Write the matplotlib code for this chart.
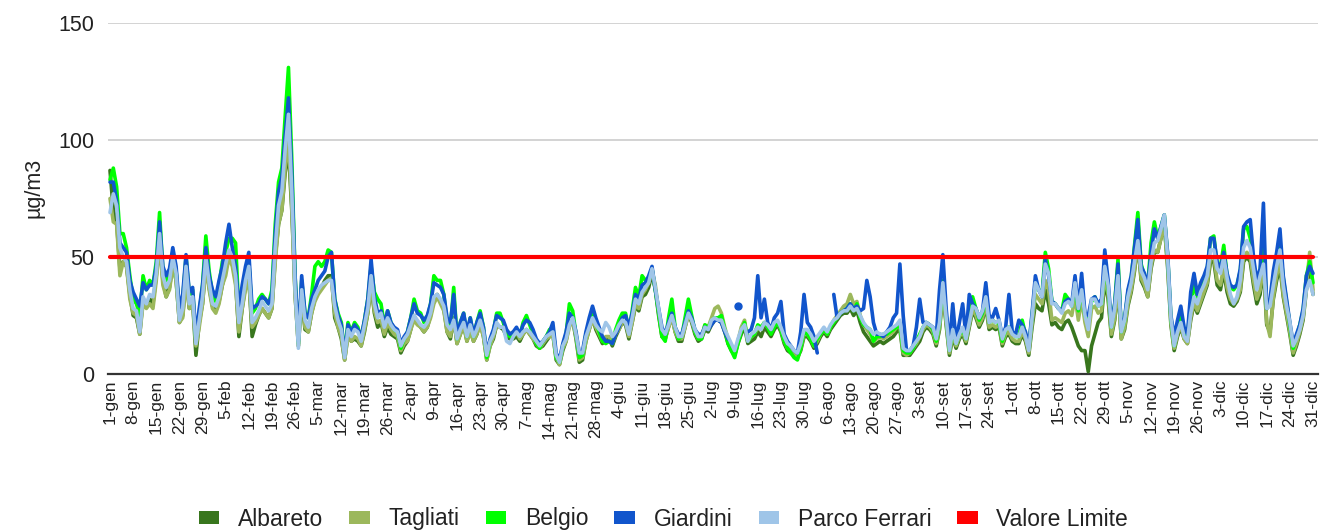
import numpy as np
import matplotlib
matplotlib.use("Agg")
import matplotlib.pyplot as plt
from matplotlib.patches import Patch

nan = float("nan")

tick_labels = ["1-gen", "8-gen", "15-gen", "22-gen", "29-gen", "5-feb", "12-feb", "19-feb",
               "26-feb", "5-mar", "12-mar", "19-mar", "26-mar", "2-apr", "9-apr", "16-apr",
               "23-apr", "30-apr", "7-mag", "14-mag", "21-mag", "28-mag", "4-giu", "11-giu",
               "18-giu", "25-giu", "2-lug", "9-lug", "16-lug", "23-lug", "30-lug", "6-ago",
               "13-ago", "20-ago", "27-ago", "3-set", "10-set", "17-set", "24-set", "1-ott",
               "8-ott", "15-ott", "22-ott", "29-ott", "5-nov", "12-nov", "19-nov", "26-nov",
               "3-dic", "10-dic", "17-dic", "24-dic", "31-dic"]

albareto = [
    87, 70, 65, 45, 48, 46, 34,
    25, 24, 17, 32, 29, 32, 30,
    42, 58, 40, 33, 37, 47, 40,
    22, 25, 42, 28, 31, 8, 22,
    30, 48, 37, 29, 27, 31, 38,
    44, 52, 48, 40, 16, 28, 38,
    42, 16, 21, 25, 28, 26, 24,
    28, 50, 64, 70, 86, 96, 70,
    34, 12, 33, 19, 18, 26, 32,
    35, 37, 40, 42, 42, 24, 20,
    15, 6, 17, 14, 15, 14, 12,
    18, 26, 38, 26, 20, 22, 16,
    20, 17, 16, 15, 9, 12, 14,
    19, 25, 22, 20, 18, 20, 25,
    32, 34, 31, 28, 18, 15, 24,
    13, 17, 21, 14, 19, 14, 17,
    22, 16, 6, 12, 15, 21, 20,
    19, 16, 15, 15, 16, 14, 17,
    19, 17, 15, 12, 11, 12, 14,
    16, 17, 6, 4, 10, 14, 22,
    23, 15, 5, 6, 14, 19, 24,
    19, 16, 13, 15, 15, 12, 16,
    19, 22, 21, 15, 22, 29, 27,
    33, 34, 37, 43, 36, 25, 16,
    15, 20, 25, 18, 14, 14, 20,
    26, 22, 17, 14, 15, 19, 18,
    21, 23, 23, 22, 18, 13, 10,
    8, 13, 17, 20, 13, 14, 15,
    18, 16, 20, 18, 16, 19, 21,
    18, 13, 10, 9, 8, 7, 10,
    16, 16, 14, 11, 13, 16, 18,
    16, 19, 21, 23, 25, 26, 26,
    28, 25, 27, 22, 18, 16, 14,
    12, 13, 14, 13, 14, 15, 16,
    18, 19, 8, 8, 8, 10, 12,
    14, 18, 20, 19, 17, 12, 19,
    35, 21, 8, 16, 11, 15, 17,
    13, 20, 27, 24, 20, 23, 29,
    19, 20, 19, 20, 12, 16, 17,
    14, 13, 13, 17, 14, 8, 20,
    30, 28, 27, 36, 30, 21, 22,
    20, 19, 22, 23, 20, 16, 12,
    10, 10, 1, 12, 17, 22, 24,
    40, 32, 16, 23, 37, 15, 19,
    29, 35, 44, 56, 40, 37, 33,
    45, 52, 52, 58, 64, 46, 21,
    10, 16, 20, 15, 13, 23, 30,
    26, 30, 34, 38, 48, 48, 38,
    36, 44, 35, 30, 29, 31, 35,
    48, 50, 48, 38, 30, 34, 46,
    21, 18, 32, 40, 46, 33, 25,
    17, 8, 12, 17, 23, 36, 44,
    34]

tagliati = [
    75, 65, 64, 42, 48, 46, 32,
    26, 25, 17, 30, 28, 30, 28,
    40, 56, 38, 33, 36, 46, 40,
    22, 24, 40, 28, 31, 12, 20,
    30, 46, 36, 28, 26, 30, 38,
    42, 50, 46, 38, 18, 28, 36,
    40, 20, 22, 25, 28, 26, 24,
    28, 48, 64, 70, 88, 100, 72,
    34, 12, 34, 20, 18, 26, 31,
    34, 36, 38, 40, 41, 26, 20,
    16, 6, 16, 14, 16, 15, 12,
    19, 26, 38, 27, 22, 23, 17,
    22, 19, 17, 16, 10, 13, 14,
    19, 23, 21, 20, 18, 20, 24,
    30, 33, 30, 27, 18, 16, 24,
    13, 17, 21, 14, 18, 14, 17,
    21, 16, 6, 12, 16, 21, 20,
    20, 18, 17, 18, 18, 15, 17,
    19, 17, 15, 13, 11, 13, 15,
    16, 17, 7, 4, 11, 14, 20,
    23, 16, 6, 7, 14, 19, 23,
    20, 17, 14, 16, 16, 13, 17,
    19, 22, 22, 16, 22, 30, 28,
    34, 36, 39, 44, 38, 27, 17,
    15, 20, 24, 18, 15, 15, 20,
    25, 23, 18, 15, 16, 21, 20,
    24, 28, 29, 26, 20, 15, 11,
    8, 14, 20, 23, 14, 16, 17,
    20, 19, 22, 20, 18, 21, 22,
    19, 14, 11, 10, 8, 7, 11,
    17, 17, 15, 12, 14, 17, 19,
    17, 20, 23, 25, 27, 29, 30,
    34, 30, 31, 25, 21, 19, 17,
    14, 15, 16, 15, 16, 17, 18,
    20, 20, 9, 8, 9, 11, 13,
    16, 19, 21, 20, 18, 13, 20,
    36, 22, 9, 17, 12, 16, 18,
    14, 21, 28, 25, 21, 24, 30,
    20, 21, 20, 21, 13, 17, 18,
    15, 14, 14, 18, 15, 9, 22,
    34, 32, 30, 40, 36, 23, 24,
    23, 22, 26, 27, 25, 33, 23,
    32, 22, 16, 28, 29, 26, 27,
    42, 34, 17, 24, 38, 15, 20,
    30, 36, 45, 56, 41, 38, 33,
    46, 53, 52, 58, 64, 47, 22,
    11, 17, 21, 15, 13, 24, 31,
    27, 31, 35, 39, 50, 50, 40,
    38, 46, 37, 32, 30, 32, 36,
    50, 52, 50, 40, 32, 36, 48,
    22, 16, 33, 42, 48, 34, 26,
    18, 9, 13, 18, 24, 38, 52,
    36]

belgio = [
    83, 88, 80, 60, 60, 54, 42,
    32, 30, 25, 42, 36, 40, 38,
    48, 69, 44, 40, 42, 52, 44,
    26, 32, 50, 34, 36, 14, 26,
    38, 59, 44, 34, 31, 38, 48,
    52, 58, 58, 56, 26, 35, 44,
    48, 26, 28, 32, 34, 32, 30,
    36, 64, 82, 88, 110, 131, 92,
    42, 13, 40, 26, 24, 34, 46,
    48, 46, 48, 53, 52, 32, 26,
    22, 8, 22, 18, 22, 20, 15,
    23, 32, 46, 35, 32, 30, 21,
    27, 22, 19, 18, 11, 15, 18,
    24, 32, 27, 26, 22, 24, 30,
    42, 40, 40, 34, 22, 20, 37,
    15, 22, 26, 16, 24, 16, 22,
    27, 20, 7, 14, 18, 26, 26,
    22, 17, 16, 16, 19, 16, 22,
    25, 21, 17, 13, 11, 14, 16,
    19, 20, 7, 5, 12, 17, 30,
    27, 17, 7, 8, 17, 22, 28,
    22, 18, 14, 13, 14, 13, 19,
    23, 26, 26, 18, 27, 37, 33,
    42, 40, 41, 45, 36, 26, 16,
    14, 24, 32, 20, 15, 16, 24,
    32, 25, 18, 15, 15, 21, 20,
    22, 24, 24, 25, 19, 13, 10,
    7, 13, 18, 22, 14, 16, 17,
    21, 20, 22, 20, 17, 20, 22,
    19, 14, 11, 9, 7, 6, 11,
    18, 17, 15, 12, 15, 17, 19,
    17, 20, 22, 24, 26, 27, 28,
    30, 27, 30, 24, 21, 20, 19,
    14, 16, 16, 17, 17, 18, 19,
    20, 21, 10, 9, 9, 11, 14,
    17, 20, 22, 21, 19, 14, 22,
    40, 25, 10, 19, 13, 17, 19,
    15, 23, 33, 28, 23, 26, 33,
    22, 23, 22, 22, 14, 19, 20,
    18, 16, 16, 23, 17, 11, 25,
    39, 36, 34, 52, 45, 31, 30,
    28, 27, 34, 32, 29, 38, 27,
    36, 25, 22, 31, 33, 29, 30,
    46, 37, 20, 30, 49, 18, 23,
    35, 41, 55, 69, 47, 42, 38,
    56, 65, 58, 63, 68, 51, 24,
    12, 20, 25, 18, 16, 30, 39,
    32, 38, 41, 45, 58, 59, 46,
    46, 55, 42, 37, 36, 38, 44,
    62, 63, 58, 47, 38, 44, 58,
    28, 30, 41, 49, 55, 41, 31,
    21, 11, 16, 21, 27, 42, 48,
    39]

giardini = [
    82, 82, 74, 56, 54, 52, 40,
    35, 32, 29, 39, 36, 38, 38,
    46, 65, 46, 42, 45, 54, 46,
    28, 34, 51, 35, 37, 16, 28,
    38, 54, 42, 36, 33, 40, 46,
    56, 64, 54, 46, 28, 38, 46,
    52, 28, 29, 30, 33, 32, 30,
    34, 60, 78, 84, 102, 118, 86,
    42, 14, 42, 26, 24, 32, 36,
    40, 42, 44, 50, 52, 32, 25,
    21, 8, 21, 18, 21, 19, 16,
    23, 32, 49, 33, 26, 27, 21,
    27, 22, 20, 19, 13, 16, 18,
    24, 30, 26, 25, 23, 25, 30,
    39, 38, 37, 34, 24, 22, 34,
    16, 22, 26, 18, 24, 17, 22,
    26, 20, 9, 15, 19, 25, 24,
    23, 19, 17, 18, 20, 17, 21,
    23, 22, 19, 15, 13, 14, 16,
    18, 22, 9, 6, 13, 18, 26,
    24, 18, 9, 10, 18, 24, 29,
    24, 20, 16, 14, 14, 13, 17,
    20, 24, 25, 20, 26, 34, 32,
    38, 39, 42, 46, 36, 28, 20,
    17, 22, 26, 20, 17, 17, 22,
    27, 24, 19, 17, 17, 20, 19,
    21, 23, 23, 22, 18, 15, nan,
    nan, 29, nan, nan, 18, 19, 24,
    42, 24, 32, 22, 19, 24, 26,
    31, 17, 14, 12, 10, 9, 18,
    34, 22, 20, 16, 9, nan, nan,
    nan, nan, 34, 24, 26, 27, 28,
    30, 28, 29, 27, 28, 40, 33,
    22, 17, 17, 16, 18, 20, 24,
    26, 47, 25, 10, 10, 12, 20,
    32, 22, 22, 21, 20, 16, 36,
    51, 28, 12, 30, 14, 22, 30,
    16, 34, 30, 28, 24, 27, 39,
    25, 24, 28, 23, 16, 20, 34,
    18, 17, 23, 21, 18, 12, 26,
    42, 36, 33, 49, 42, 31, 30,
    28, 27, 31, 32, 30, 42, 28,
    43, 26, 25, 32, 33, 30, 32,
    53, 40, 21, 30, 47, 19, 24,
    36, 42, 54, 66, 46, 43, 38,
    52, 62, 58, 63, 68, 52, 25,
    16, 23, 29, 20, 17, 35, 43,
    34, 39, 42, 46, 58, 58, 48,
    45, 52, 43, 38, 37, 38, 45,
    63, 65, 66, 50, 40, 45, 73,
    28, 32, 44, 52, 62, 42, 32,
    22, 13, 17, 21, 28, 42, 46,
    43]

parco_ferrari = [
    69, 77, 72, 54, 50, 48, 36,
    28, 27, 18, 33, 30, 34, 33,
    43, 60, 42, 37, 40, 50, 43,
    23, 28, 46, 30, 33, 13, 23,
    33, 50, 39, 30, 29, 33, 40,
    47, 53, 50, 42, 22, 30, 40,
    46, 22, 24, 27, 31, 29, 27,
    30, 54, 72, 78, 96, 111, 78,
    36, 11, 36, 23, 20, 28, 33,
    36, 38, 39, 40, 40, 29, 23,
    19, 7, 19, 16, 19, 18, 14,
    21, 28, 42, 30, 24, 26, 20,
    24, 21, 19, 18, 12, 15, 17,
    21, 25, 23, 21, 20, 22, 26,
    33, 34, 32, 29, 21, 19, 23,
    15, 19, 22, 16, 21, 16, 19,
    23, 18, 8, 14, 17, 22, 20,
    20, 14, 13, 16, 18, 16, 18,
    19, 18, 16, 14, 12, 14, 16,
    17, 18, 8, 5, 12, 15, 21,
    24, 17, 9, 9, 16, 20, 24,
    21, 19, 18, 22, 20, 16, 18,
    21, 23, 22, 17, 24, 32, 30,
    35, 37, 39, 45, 37, 28, 19,
    17, 21, 25, 20, 16, 16, 21,
    26, 23, 19, 16, 16, 20, 19,
    23, 24, 23, 23, 19, 16, 13,
    10, 15, 19, 21, 14, 17, 18,
    20, 19, 22, 21, 19, 22, 23,
    20, 16, 13, 12, 10, 9, 13,
    19, 19, 17, 14, 16, 18, 20,
    18, 21, 23, 24, 26, 27, 27,
    29, 27, 28, 25, 22, 20, 19,
    17, 18, 17, 17, 18, 19, 20,
    21, 23, 11, 10, 10, 12, 14,
    16, 20, 22, 21, 20, 15, 22,
    39, 24, 10, 19, 13, 17, 20,
    15, 22, 29, 28, 24, 27, 33,
    22, 23, 22, 23, 15, 19, 20,
    17, 16, 16, 20, 16, 10, 24,
    39, 36, 33, 47, 43, 30, 30,
    28, 26, 30, 31, 29, 39, 28,
    36, 25, 19, 32, 32, 29, 30,
    46, 38, 20, 28, 42, 18, 23,
    33, 39, 48, 57, 44, 41, 36,
    48, 56, 57, 62, 68, 50, 24,
    12, 18, 22, 16, 14, 26, 33,
    30, 35, 38, 42, 53, 53, 45,
    43, 50, 41, 34, 30, 33, 40,
    54, 57, 54, 45, 36, 42, 47,
    28, 29, 38, 46, 53, 38, 29,
    22, 12, 15, 19, 25, 36, 40,
    34]

valore_limite = [50] * 365

series = [
    ("Albareto", albareto, "#38761d"),
    ("Tagliati", tagliati, "#9cb85c"),
    ("Belgio", belgio, "#00ff00"),
    ("Giardini", giardini, "#1155cc"),
    ("Parco Ferrari", parco_ferrari, "#9fc5e8"),
    ("Valore Limite", valore_limite, "#ff0000"),
]

plt.rcParams["font.family"] = ["Liberation Sans", "DejaVu Sans"]

W, H = 1327, 532
fig = plt.figure(figsize=(W / 100, H / 100), dpi=100)
ax_left, ax_right, ax_top, ax_bottom = 108, 1318, 23, 374
ax = fig.add_axes([ax_left / W, (H - ax_bottom) / H,
                   (ax_right - ax_left) / W, (ax_bottom - ax_top) / H])

days = np.arange(1, 366)
for name, vals, col in series:
    v = np.array(vals, dtype=float)
    lw = 3.0 if name == "Valore Limite" else 2.6
    ax.plot(days, v, color=col, lw=lw, solid_joinstyle="round", solid_capstyle="round", zorder=3)
    ok = ~np.isnan(v)
    prev_ok = np.r_[False, ok[:-1]]
    next_ok = np.r_[ok[1:], False]
    iso = ok & ~prev_ok & ~next_ok
    if iso.any():
        ax.plot(days[iso], v[iso], "o", color=col, ms=5, zorder=3)

px_per_day = (1313 - 110) / 364
ax.set_xlim(1 - (110 - ax_left) / px_per_day, 365 + (ax_right - 1313) / px_per_day)
ax.set_ylim(0, 150)
ax.set_yticks([0, 50, 100, 150])
ax.set_yticklabels(["0", "50", "100", "150"])
ax.set_xticks(days[::7])
ax.set_xticklabels(tick_labels, rotation=90, fontsize=12.5, color="#222222")
ax.tick_params(axis="y", labelsize=15.5, colors="#222222", length=0, pad=10)
ax.tick_params(axis="x", length=0, pad=4)
ax.grid(axis="y", color="#cccccc", lw=1.2)
ax.set_axisbelow(True)
for s in ["top", "right", "left"]:
    ax.spines[s].set_visible(False)
ax.spines["bottom"].set_color("#333333")
ax.spines["bottom"].set_linewidth(1.6)
ax.spines["bottom"].set_zorder(2)
ax.set_ylabel("µg/m3", fontsize=15.5, color="#222222")
ax.yaxis.set_label_coords(-(ax_left - 44) / (ax_right - ax_left), 0.53)

handles = [Patch(facecolor=c, edgecolor="none") for _, _, c in series]
labels = [n for n, _, _ in series]
fig.legend(handles, labels, loc="center", bbox_to_anchor=(0.500, (H - 519) / H),
           ncol=6, frameon=False, fontsize=16.5, handlelength=0.9, handleheight=0.5,
           handletextpad=0.8, columnspacing=1.15, labelcolor="#222222")

fig.savefig("out.png", dpi=100)
